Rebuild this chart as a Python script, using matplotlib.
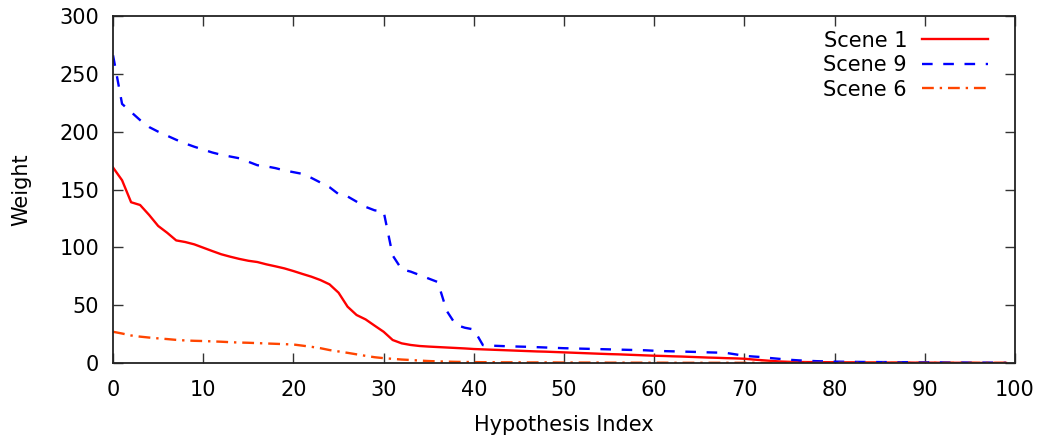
"""Hypothesis weight curves for three scenes (gnuplot-like look)."""
import matplotlib
matplotlib.use("Agg")
import matplotlib.pyplot as plt
import numpy as np

plt.rcParams.update({"font.family": "DejaVu Sans", "font.size": 15})

# weights per hypothesis index
scene1 = [169, 158, 139, 136.6, 128, 118.5, 112.6, 106, 104.6, 102.6,
          99.7, 96.8, 94, 91.9, 90, 88.4, 87.3, 85.3, 83.6, 81.8,
          79.5, 77, 74.6, 71.7, 68, 60.8, 48.7, 41.5, 37.7, 32.3,
          27, 19.9, 17, 15.6, 14.7, 14.2, 13.8, 13.4, 13, 12.6,
          12.1, 11.8, 11.5, 11.2, 10.9, 10.6, 10.3, 10, 9.8, 9.5,
          9.2, 8.9, 8.6, 8.3, 8, 7.7, 7.5, 7.2, 6.9, 6.6,
          6.3, 6.1, 5.8, 5.6, 5.3, 5.0, 4.7, 4.5, 4.2, 4.0,
          3.7, 3.0, 2.4, 1.8, 1.3, 1.0, 0.9, 0.8, 0.8, 0.7,
          0.7, 0.6, 0.6, 0.5, 0.5, 0.5, 0.4, 0.4, 0.4, 0.3,
          0.3, 0.3, 0.2, 0.2, 0.2, 0.2, 0.1, 0.1, 0.1, 0.1]
scene9 = [266, 224, 217, 210, 204, 200, 196.5, 193, 189.8, 187,
          184.5, 182, 180, 178.5, 177, 174, 171, 170, 168.5, 166.5,
          165, 163.5, 160, 156, 152, 146, 144, 139.5, 135, 132,
          131, 93, 81, 79, 76, 73, 70, 45, 33, 30.5,
          29, 15.5, 15, 14.7, 14.4, 14.2, 14, 13.7, 13.4, 13.1,
          12.8, 12.6, 12.4, 12.2, 12, 11.8, 11.6, 11.4, 11.2, 11,
          10.6, 10.3, 10.1, 9.9, 9.7, 9.5, 9.2, 9, 8.7, 7.5,
          6.2, 5.6, 5.1, 4.2, 3.5, 2.8, 2.3, 1.9, 1.6, 1.4,
          1.2, 1.1, 1.0, 0.9, 0.9, 0.8, 0.8, 0.7, 0.7, 0.6,
          0.6, 0.5, 0.5, 0.4, 0.4, 0.3, 0.3, 0.3, 0.2, 0.2]
scene6 = [27, 25.5, 23.8, 22.8, 22, 21.3, 20.7, 20, 19.5, 19.2,
          19, 18.7, 18.4, 18, 17.7, 17.5, 17.2, 16.9, 16.6, 16.3,
          16, 15, 14, 12.8, 11.2, 10, 8.8, 7.5, 6.2, 5,
          4.2, 3.6, 3, 2.6, 2.1, 1.7, 1.4, 1.2, 1, 0.9,
          0.8, 0.7, 0.7, 0.6, 0.6, 0.6, 0.5, 0.5, 0.5, 0.5,
          0.4, 0.4, 0.4, 0.4, 0.4, 0.3, 0.3, 0.3, 0.3, 0.3,
          0.3, 0.3, 0.2, 0.2, 0.2, 0.2, 0.2, 0.2, 0.2, 0.2,
          0.2, 0.2, 0.1, 0.1, 0.1, 0.1, 0.1, 0.1, 0.1, 0.1,
          0.1, 0.1, 0.1, 0.1, 0.1, 0.1, 0.1, 0.1, 0.1, 0.1,
          0.1, 0.1, 0.1, 0.1, 0.1, 0.1, 0.1, 0.1, 0.1, 0.1]
labels = ["Scene 1", "Scene 9", "Scene 6"]


def main() -> None:
    fig = plt.figure(figsize=(10.4, 4.36), dpi=100)
    ax = fig.add_axes([0.1087, 0.1674, 0.8673, 0.7959])
    idx = np.arange(len(scene1))
    ax.plot(idx, scene1, color="#ff0000", lw=1.7, label=labels[0])
    ax.plot(idx, scene9, color="#0000ff", lw=1.7, dashes=(4.5, 4.5),
            label=labels[1])
    ax.plot(idx, scene6, color="#ff4500", lw=1.7,
            dashes=(5, 2.5, 1, 2.5), label=labels[2])

    ax.set_xlim(0, 100)
    ax.set_ylim(0, 300)
    ax.set_xticks(range(0, 101, 10))
    ax.set_yticks(range(0, 301, 50))
    ax.tick_params(direction="in", length=7, width=1, top=True, right=True,
                   labelsize=15, color="#333333")
    ax.tick_params(axis="x", pad=12)
    ax.tick_params(axis="y", pad=10)
    for s in ax.spines.values():
        s.set_linewidth(1.3)
        s.set_color("#222222")
    ax.set_xlabel("Hypothesis Index", fontsize=15, labelpad=11)
    ax.set_ylabel("Weight", fontsize=15, labelpad=20)

    leg = ax.legend(loc="upper right", frameon=False, markerfirst=False,
                    handlelength=3.2, fontsize=15, labelspacing=0.22,
                    borderaxespad=0.3, handletextpad=0.7,
                    bbox_to_anchor=(0.9865, 1.0))
    for t in leg.get_texts():
        t.set_ha("right")
    fig.savefig("out.png", dpi=100)
    plt.close(fig)


if __name__ == "__main__":
    main()
